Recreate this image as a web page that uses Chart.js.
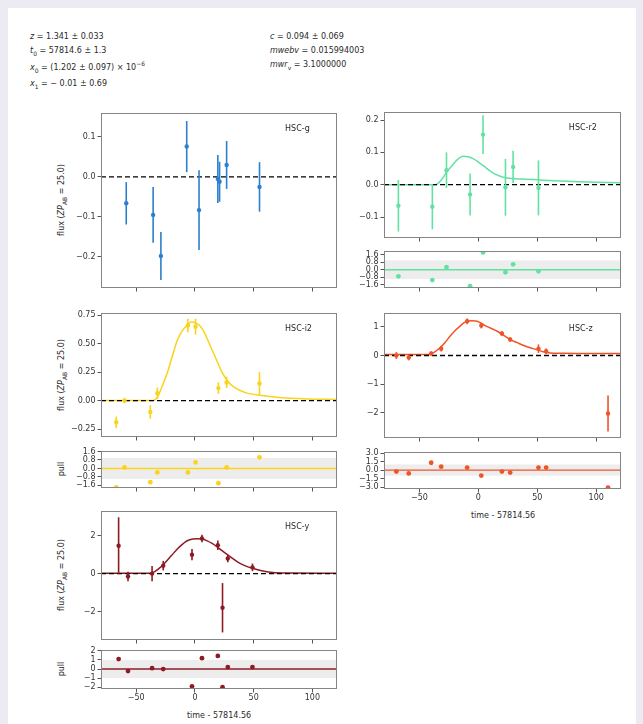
<!DOCTYPE html>
<html>
<head>
<meta charset="utf-8">
<script src="https://cdn.jsdelivr.net/npm/chart.js@4.4.0/dist/chart.umd.min.js"></script>
<style>
  body { margin: 0; width: 643px; height: 724px; background: #ecebf3; overflow: hidden; font-family: "DejaVu Sans", sans-serif; }
  #sheet { position: absolute; left: 8px; top: 8px; width: 628px; height: 716px; background: #fff; }
  canvas { position: absolute; }
  .t { position: absolute; font-size: 8px; line-height: 10px; color: #2a2a2a; white-space: nowrap; }
  .t sub, .t sup { font-size: 6px; line-height: 0; }
  .rot { transform: translate(-50%, -50%) rotate(-90deg); }
  .ctr { transform: translate(-50%, -50%); }
</style>
</head>
<body>
<div id="sheet"></div>

<div class="t" style="left:30px;top:32px"><i>z</i> = 1.341 ± 0.033</div>
<div class="t" style="left:30px;top:46px"><i>t</i><sub>0</sub> = 57814.6 ± 1.3</div>
<div class="t" style="left:30px;top:63px"><i>x</i><sub>0</sub> = (1.202 ± 0.097) × 10<sup>−6</sup></div>
<div class="t" style="left:30px;top:79px"><i>x</i><sub>1</sub> = − 0.01 ± 0.69</div>
<div class="t" style="left:270px;top:32px"><i>c</i> = 0.094 ± 0.069</div>
<div class="t" style="left:270px;top:46px"><i>mwebv</i> = 0.015994003</div>
<div class="t" style="left:270px;top:60px"><i>mwr</i><sub>v</sub> = 3.1000000</div>

<div class="t rot" style="left:62px;top:200px">flux (<i>ZP</i><sub>AB</sub> = 25.0)</div>
<div class="t rot" style="left:62px;top:375px">flux (<i>ZP</i><sub>AB</sub> = 25.0)</div>
<div class="t rot" style="left:62px;top:469px">pull</div>
<div class="t rot" style="left:62px;top:575px">flux (<i>ZP</i><sub>AB</sub> = 25.0)</div>
<div class="t rot" style="left:62px;top:669px">pull</div>
<div class="t ctr" style="left:503px;top:516px">time - 57814.56</div>
<div class="t ctr" style="left:219px;top:716px">time - 57814.56</div>

<script>
const xTicks = [-50, 0, 50, 100];

// HSC-g
const gTime = [-58.5, -35.6, -29, -7, 3.5, 19.5, 21, 27, 55];
const gFlux = [-0.066, -0.095, -0.198, 0.076, -0.083, -0.005, -0.012, 0.03, -0.025];
const gErr  = [0.053, 0.07, 0.06, 0.064, 0.1, 0.06, 0.05, 0.06, 0.062];
const gTicks = [-0.2, -0.1, 0.0, 0.1];

// HSC-r2
const r2Time = [-67.8, -39, -27, -7, 4, 23, 29.5, 51];
const r2Flux = [-0.065, -0.068, 0.045, -0.03, 0.155, -0.008, 0.055, -0.01];
const r2Err  = [0.08, 0.07, 0.055, 0.065, 0.06, 0.088, 0.05, 0.085];
const r2Pull = [-0.7, -1.1, 0.27, -1.75, 1.85, -0.27, 0.58, -0.16];
const r2ModelTime = [-80, -36, -32, -27, -22, -18, -13, -8, -4, 0, 4.5, 9, 13, 18, 22, 28, 33, 40, 50, 65, 85, 121];
const r2ModelFlux = [0, 0, 0.012, 0.038, 0.06, 0.077, 0.088, 0.086, 0.08, 0.07, 0.058, 0.045, 0.035, 0.027, 0.022, 0.019, 0.018, 0.017, 0.015, 0.012, 0.009, 0.006];
const r2Ticks = [-0.1, 0.0, 0.1, 0.2];
const r2PullTicks = [-1.6, -0.8, 0.0, 0.8, 1.6];

// HSC-i2
const i2Time = [-67, -60, -38, -32, -6, 0.5, 20, 27, 55];
const i2Flux = [-0.19, 0.0, -0.1, 0.065, 0.66, 0.65, 0.11, 0.16, 0.15];
const i2Err  = [0.05, 0.025, 0.06, 0.05, 0.06, 0.07, 0.05, 0.05, 0.1];
const i2Pull = [-1.8, 0.1, -1.3, -0.38, -0.38, 0.57, -1.4, 0.1, 1.05];
const i2ModelTime = [-80, -36, -32, -27, -23, -19, -15, -11, -7, -3, 1, 4, 8, 11, 14, 17, 20, 23, 28, 33, 43, 57, 74, 95, 121];
const i2ModelFlux = [0, 0, 0.03, 0.15, 0.26, 0.4, 0.53, 0.61, 0.66, 0.69, 0.68, 0.66, 0.6, 0.53, 0.46, 0.39, 0.32, 0.25, 0.17, 0.12, 0.07, 0.045, 0.025, 0.015, 0.01];
const i2Ticks = [-0.25, 0.0, 0.25, 0.5, 0.75];
const i2PullTicks = [-1.6, -0.8, 0.0, 0.8, 1.6];

// HSC-z
const zTime = [-69.5, -59, -40, -31.5, -9.5, 2.5, 20, 27, 51, 57.5, 110];
const zFlux = [0.0, -0.07, 0.07, 0.24, 1.2, 1.05, 0.77, 0.56, 0.24, 0.15, -2.03];
const zErr  = [0.12, 0.1, 0.07, 0.1, 0.1, 0.1, 0.08, 0.08, 0.15, 0.1, 0.63];
const zPull = [-0.27, -0.6, 1.3, 0.6, 0.45, -0.97, -0.27, -0.45, 0.45, 0.45, -3.1];
const zModelTime = [-80, -42, -38, -32, -28, -23.5, -19, -15, -12, -9.5, -5, -1, 3, 7.5, 12, 16, 21, 27, 33, 38.6, 44, 50, 55, 61, 70, 90, 121];
const zModelFlux = [0.04, 0.04, 0.1, 0.29, 0.47, 0.7, 0.9, 1.05, 1.15, 1.21, 1.22, 1.2, 1.12, 1.01, 0.93, 0.85, 0.72, 0.56, 0.45, 0.35, 0.27, 0.2, 0.13, 0.09, 0.08, 0.07, 0.07];
const zTicks = [-2, -1, 0, 1];
const zPullTicks = [-3.0, -1.5, 0.0, 1.5, 3.0];

// HSC-y
const yTime = [-65, -57, -36.5, -27, -2.5, 6, 19.5, 23.5, 28, 49];
const yFlux = [1.47, -0.15, 0.0, 0.42, 1.0, 1.85, 1.5, -1.8, 0.8, 0.33];
const yErr  = [1.5, 0.25, 0.4, 0.25, 0.3, 0.2, 0.25, 1.3, 0.2, 0.2];
const yPull = [1.1, -0.22, 0.1, 0.0, -1.9, 1.2, 1.45, -2.0, 0.22, 0.22];
const yModelTime = [-80, -40, -36, -30, -27, -20, -15, -10, -7, -2, 2, 6, 10, 15, 20, 25, 30, 38, 44, 49, 56, 66, 80, 121];
const yModelFlux = [0.02, 0.02, 0.05, 0.3, 0.47, 0.95, 1.3, 1.58, 1.72, 1.83, 1.84, 1.82, 1.74, 1.58, 1.36, 1.12, 0.9, 0.55, 0.38, 0.28, 0.16, 0.06, 0.03, 0.02];
const yTicks = [-2, 0, 2];
const yPullTicks = [-2, -1, 0, 1, 2];

const xMin = -80, xMax = 121;

function pts(xs, ys) {
  return xs.map((x, i) => ({x: x, y: ys[i]}));
}

function minus(s) {
  return s.replace('-', '\u2212');
}

// error bars, pull band, frame, band name
const decor = {
  id: 'decor',
  beforeDatasetsDraw(chart, args, o) {
    const ctx = chart.ctx, a = chart.chartArea, y = chart.scales.y;
    if (o.band) {
      const y1 = y.getPixelForValue(1), y2 = y.getPixelForValue(-1);
      ctx.save();
      ctx.fillStyle = 'rgba(0,0,0,0.07)';
      ctx.fillRect(a.left, y1, a.right - a.left, y2 - y1);
      ctx.restore();
    }
  },
  afterDatasetsDraw(chart, args, o) {
    const ctx = chart.ctx, a = chart.chartArea;
    const x = chart.scales.x, y = chart.scales.y;
    ctx.save();
    ctx.beginPath();
    ctx.rect(a.left, a.top, a.right - a.left, a.bottom - a.top);
    ctx.clip();
    chart.data.datasets.forEach(ds => {
      if (!ds.errs) return;
      ctx.strokeStyle = ds.backgroundColor;
      ctx.lineWidth = 1.6;
      ds.data.forEach((p, i) => {
        const px = x.getPixelForValue(p.x);
        ctx.beginPath();
        ctx.moveTo(px, y.getPixelForValue(p.y - ds.errs[i]));
        ctx.lineTo(px, y.getPixelForValue(p.y + ds.errs[i]));
        ctx.stroke();
      });
    });
    ctx.restore();

    ctx.save();
    ctx.strokeStyle = '#858585';
    ctx.lineWidth = 1;
    ctx.strokeRect(a.left + 0.5, a.top + 0.5, a.right - a.left - 1, a.bottom - a.top - 1);
    if (o.name) {
      ctx.font = '8px "DejaVu Sans"';
      ctx.fillStyle = '#2a2a2a';
      ctx.textBaseline = 'middle';
      ctx.fillText(o.name, a.left + 0.78 * (a.right - a.left), a.top + 16);
    }
    ctx.restore();
  }
};

function panel(cfg) {
  const xh = cfg.xLabels ? 16 : 4;
  const c = document.createElement('canvas');
  c.width = cfg.w + 48;
  c.height = cfg.h + 6 + xh;
  c.style.left = (cfg.x - 40) + 'px';
  c.style.top = (cfg.y - 6) + 'px';
  document.body.appendChild(c);

  const datasets = [];
  if (cfg.pull) {
    datasets.push({type: 'scatter', data: pts(cfg.time, cfg.pull), backgroundColor: cfg.color,
      borderWidth: 0, pointRadius: 2.4, order: 0});
    datasets.push({type: 'line', data: [{x: xMin, y: 0}, {x: xMax, y: 0}], borderColor: cfg.color,
      borderWidth: 1.4, pointRadius: 0, order: 1});
  } else {
    datasets.push({type: 'scatter', data: pts(cfg.time, cfg.flux), errs: cfg.err, backgroundColor: cfg.color,
      borderWidth: 0, pointRadius: 2.2, order: 0});
    datasets.push({type: 'line', data: [{x: xMin, y: 0}, {x: xMax, y: 0}], borderColor: '#000',
      borderDash: [5, 3], borderWidth: 1.3, pointRadius: 0, order: 1});
    if (cfg.modelTime) {
      datasets.push({type: 'line', data: pts(cfg.modelTime, cfg.modelFlux), borderColor: cfg.color,
        borderWidth: 1.5, pointRadius: 0, cubicInterpolationMode: 'monotone', order: 2});
    }
  }

  const tickFont = {family: 'DejaVu Sans', size: 8};
  new Chart(c, {
    type: 'scatter',
    data: {datasets: datasets},
    plugins: [decor],
    options: {
      responsive: false,
      animation: false,
      layout: {padding: {left: 0, top: 6, right: 8, bottom: 0}},
      plugins: {legend: {display: false}, tooltip: {enabled: false}, decor: {band: !!cfg.pull, name: cfg.name}},
      scales: {
        x: {
          type: 'linear', min: xMin, max: xMax,
          afterBuildTicks: s => { s.ticks = xTicks.map(v => ({value: v})); },
          afterFit: s => { s.height = xh; s.paddingLeft = s.paddingRight = s.paddingTop = s.paddingBottom = 0; },
          grid: {drawOnChartArea: false, drawTicks: true, tickLength: 3.5, color: '#555'},
          border: {display: false},
          ticks: {font: tickFont, color: '#333', padding: 1, maxRotation: 0,
            callback: v => cfg.xLabels ? minus(String(v)) : ''}
        },
        y: {
          type: 'linear', min: cfg.yMin, max: cfg.yMax,
          afterBuildTicks: s => { s.ticks = cfg.ticks.map(v => ({value: v})); },
          afterFit: s => { s.width = 40; s.paddingLeft = s.paddingRight = s.paddingTop = s.paddingBottom = 0; },
          grid: {drawOnChartArea: false, drawTicks: true, tickLength: 3.5, color: '#555'},
          border: {display: false},
          ticks: {font: tickFont, color: '#333', padding: 2, autoSkip: false,
            callback: v => minus(v.toFixed(cfg.dec))}
        }
      }
    }
  });
}

panel({x: 101, y: 113, w: 236, h: 175, name: 'HSC-g', color: '#2d7fcf',
  time: gTime, flux: gFlux, err: gErr, ticks: gTicks, yMin: -0.278, yMax: 0.16, dec: 1});
panel({x: 384, y: 112, w: 237, h: 126, name: 'HSC-r2', color: '#62e2a2',
  time: r2Time, flux: r2Flux, err: r2Err, modelTime: r2ModelTime, modelFlux: r2ModelFlux,
  ticks: r2Ticks, yMin: -0.165, yMax: 0.225, dec: 1});
panel({x: 384, y: 251, w: 237, h: 37, color: '#62e2a2', time: r2Time, pull: r2Pull,
  ticks: r2PullTicks, yMin: -1.95, yMax: 2.0, dec: 1});
panel({x: 101, y: 313, w: 236, h: 124, name: 'HSC-i2', color: '#f9d31c',
  time: i2Time, flux: i2Flux, err: i2Err, modelTime: i2ModelTime, modelFlux: i2ModelFlux,
  ticks: i2Ticks, yMin: -0.32, yMax: 0.77, dec: 2});
panel({x: 101, y: 451, w: 236, h: 37, color: '#f9d31c', time: i2Time, pull: i2Pull,
  ticks: i2PullTicks, yMin: -1.85, yMax: 1.65, dec: 1});
panel({x: 384, y: 313, w: 237, h: 125, name: 'HSC-z', color: '#ef5428',
  time: zTime, flux: zFlux, err: zErr, modelTime: zModelTime, modelFlux: zModelFlux,
  ticks: zTicks, yMin: -2.89, yMax: 1.49, dec: 0});
panel({x: 384, y: 452, w: 237, h: 37, color: '#ef5428', time: zTime, pull: zPull, xLabels: true,
  ticks: zPullTicks, yMin: -3.35, yMax: 3.2, dec: 1});
panel({x: 101, y: 511, w: 236, h: 129, name: 'HSC-y', color: '#8e1b24',
  time: yTime, flux: yFlux, err: yErr, modelTime: yModelTime, modelFlux: yModelFlux,
  ticks: yTicks, yMin: -3.5, yMax: 3.3, dec: 0});
panel({x: 101, y: 650, w: 236, h: 39, color: '#8e1b24', time: yTime, pull: yPull, xLabels: true,
  ticks: yPullTicks, yMin: -2.2, yMax: 2.1, dec: 0});
</script>
</body>
</html>
